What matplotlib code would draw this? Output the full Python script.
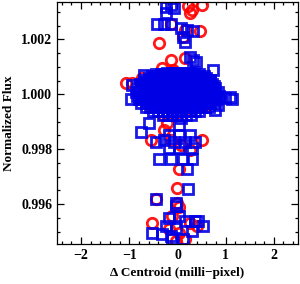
import numpy as np
import matplotlib
matplotlib.use('Agg')
import matplotlib.pyplot as plt
from matplotlib.ticker import MultipleLocator

plt.rcParams['font.family'] = ['Liberation Serif', 'DejaVu Serif']
plt.rcParams['font.weight'] = 'bold'
plt.rcParams['axes.unicode_minus'] = True

# flux offsets are stored in ppm relative to 1.0
# --- red circles (first data set) ---
red_x = [-0.3, 0.0, 0.25, -0.316, -0.1, -1.074, -0.947, -0.737, -0.5, -0.1, 0.3, 0.6,
         -0.7, -0.3, 0.1, 0.5, 0.8, -0.6, -0.2, 0.2, 0.6, -0.3, 0.1,
         # upper outliers
         0.21, 0.505, 0.253, 0.295, 0.463, -0.379, -0.126, 0.147, -0.126, 0.147, 0.105,
         # lower outliers
         -0.547, -0.21, 0.505, -0.126, 0.084, 0.253, -0.274, 0.042, 0.0, -0.442, 0.0, 0.042,
         -0.526, -0.105, -0.168, 0.042, 0.147, -0.021, 0.4, 0.253]
red_ppm = [700, 700, 700, 951, 880, 402, 402, 585, 400, 400, 400, 400,
           0, 0, 0, 0, 0, -400, -400, -400, -400, -750, -750,
           3217, 3254, 2961, 3071, 2303, 1865, 1243, 1316, 2559, 2340, 2084,
           -1682, -1060, -1682, -1682, -1865, -2047, -1316, -2705, -3400, -3802, -3948, -4095,
           -4680, -4424, -4899, -5045, -5265, -5338, -4789, -4680]

# --- blue squares (second data set) ---
blue_core_x = [
    -0.22, -0.12, -0.02, 0.08, 0.18, 0.27,
    -0.52, -0.41, -0.33, -0.22, -0.13, -0.04, 0.06, 0.15, 0.24, 0.35, 0.44, 0.55,
    -0.66, -0.57, -0.46, -0.37, -0.27, -0.18, -0.08, 0.01, 0.11, 0.2, 0.31, 0.4, 0.5, 0.61, 0.68,
    -0.78, -0.69, -0.6, -0.5, -0.41, -0.31, -0.22, -0.12, -0.03, 0.07, 0.16, 0.26, 0.35, 0.45, 0.54, 0.64, 0.72,
    -0.84, -0.74, -0.65, -0.55, -0.46, -0.36, -0.27, -0.17, -0.08, 0.02, 0.11, 0.21, 0.3, 0.4, 0.49, 0.59, 0.68, 0.78,
    -0.86, -0.77, -0.67, -0.58, -0.48, -0.39, -0.29, -0.2, -0.1, -0.01, 0.09, 0.18, 0.28, 0.37, 0.47, 0.56, 0.66, 0.75, 0.84,
    -0.84, -0.74, -0.65, -0.55, -0.46, -0.36, -0.27, -0.17, -0.08, 0.02, 0.11, 0.21, 0.3, 0.4, 0.49, 0.59, 0.68, 0.78, 0.87,
    -0.8, -0.71, -0.61, -0.52, -0.42, -0.33, -0.23, -0.14, -0.04, 0.05, 0.15, 0.24, 0.34, 0.43, 0.53, 0.62, 0.72, 0.8,
    -0.75, -0.65, -0.56, -0.46, -0.37, -0.27, -0.18, -0.08, 0.01, 0.11, 0.2, 0.3, 0.39, 0.49, 0.58, 0.68, 0.76,
    -0.66, -0.57, -0.47, -0.38, -0.28, -0.19, -0.09, 0.0, 0.1, 0.19, 0.29, 0.38, 0.48, 0.57, 0.65,
    -0.5, -0.4, -0.31, -0.21, -0.12, -0.02, 0.07, 0.17, 0.26, 0.36, 0.45,
    -0.3, -0.2, -0.11, -0.01, 0.08, 0.18, 0.28]
blue_core_ppm = (
    [790] * 6 + [650] * 12 + [510] * 15 + [370] * 17 + [230] * 18 + [90] * 19 +
    [-50] * 19 + [-190] * 18 + [-330] * 17 + [-470] * 15 + [-610] * 11 + [-740] * 7)

# denser inner core, staggered between the rows above
blue_inner_x = [
    -0.45, -0.35, -0.25, -0.15, -0.05, 0.05, 0.15, 0.25, 0.35, 0.45,
    -0.6, -0.5, -0.4, -0.3, -0.2, -0.1, 0.0, 0.1, 0.2, 0.3, 0.4, 0.5, 0.6,
    -0.7, -0.6, -0.5, -0.4, -0.3, -0.2, -0.1, 0.0, 0.1, 0.2, 0.3, 0.4, 0.5, 0.6, 0.68,
    -0.75, -0.65, -0.55, -0.45, -0.35, -0.25, -0.15, -0.05, 0.05, 0.15, 0.25, 0.35, 0.45, 0.55, 0.65, 0.75,
    -0.75, -0.65, -0.55, -0.45, -0.35, -0.25, -0.15, -0.05, 0.05, 0.15, 0.25, 0.35, 0.45, 0.55, 0.65, 0.75,
    -0.72, -0.62, -0.52, -0.42, -0.32, -0.22, -0.12, -0.02, 0.08, 0.18, 0.28, 0.38, 0.48, 0.58, 0.68, 0.78,
    -0.7, -0.6, -0.5, -0.4, -0.3, -0.2, -0.1, 0.0, 0.1, 0.2, 0.3, 0.4, 0.5, 0.6, 0.7,
    -0.6, -0.5, -0.4, -0.3, -0.2, -0.1, 0.0, 0.1, 0.2, 0.3, 0.4, 0.5, 0.6,
    -0.4, -0.3, -0.2, -0.1, 0.0, 0.1, 0.2, 0.3, 0.4]
blue_inner_ppm = (
    [720] * 10 + [580] * 13 + [440] * 15 + [300] * 16 + [160] * 16 + [20] * 16 +
    [-120] * 15 + [-260] * 13 + [-400] * 9)

blue_out_x = [-0.947, -0.968, 0.737, 0.99, 1.137, 0.779, 0.84, -0.695, 1.095,
              # upper outliers
              -0.23, -0.126, -0.063, -0.23, -0.42, -0.27, -0.126, 0.084, 0.19, 0.316, 0.105, 0.147,
              0.316, 0.253, 0.38,
              # lower outliers
              -0.589, -0.758, -0.442, 0.042, 0.084,
              -0.168, 0.042, 0.253, -0.063, 0.147, 0.358, -0.168, 0.042, 0.295, -0.274,
              -0.379, -0.126, 0.105, 0.295, 0.19, 0.21, -0.442, -0.021, -0.021, -0.526,
              -0.168, 0.147, 0.358, 0.526, -0.232, -0.021, 0.295, -0.316, -0.126, 0.105, -0.105, 0.421, 0.042]
blue_out_ppm = [329, -183, 877, -146, -183, -585, -402, 695, -110,
                3181, 3254, 3144, 2961, 2559, 2559, 2559, 2413, 2340, 2303, 2084, 1901,
                1243, 1353, 1170,
                -1060, -1389, -1755, -1133, -877,
                -1499, -1499, -1499, -1755, -1755, -1755, -1974, -1974, -1974, -1682,
                -2340, -2340, -2340, -2340, -2705, -3437, -3802, -3948, -4058, -5045,
                -4497, -4607, -4607, -4789, -4789, -4862, -4972, -5082, -5155, -5265, -5265, -4607, -4424]

red_flux = 1.0 + np.array(red_ppm) * 1e-6
blue_x = blue_core_x + blue_inner_x + blue_out_x
blue_flux = 1.0 + np.array(blue_core_ppm + blue_inner_ppm + blue_out_ppm) * 1e-6

fig = plt.figure(figsize=(3.0, 2.84), dpi=100)
ax = fig.add_axes([0.19, 0.141, 0.803, 0.852])

ax.plot(red_x, red_flux, 'o', mfc='none', mec='#ff0000', ms=7.5, mew=2.0, alpha=0.9)
ax.plot(blue_x, blue_flux, 's', mfc='none', mec='#0000e6', ms=7.3, mew=2.0, alpha=0.9)

ax.set_xlim(-2.5, 2.5)
ax.set_ylim(0.99455, 1.00336)
ax.xaxis.set_major_locator(MultipleLocator(1))
ax.xaxis.set_minor_locator(MultipleLocator(0.2))
ax.yaxis.set_major_locator(MultipleLocator(0.002))
ax.yaxis.set_minor_locator(MultipleLocator(0.0005))
ax.yaxis.set_major_formatter(plt.FormatStrFormatter('%.3f'))
ax.tick_params(which='both', direction='in', top=True, right=True, labelsize=10, width=0.9)
ax.tick_params(which='major', length=5)
ax.tick_params(which='minor', length=2.5)
for s in ax.spines.values():
    s.set_linewidth(0.9)

ax.set_xlabel('Δ Centroid (milli−pixel)', fontsize=9.5, fontweight='bold', labelpad=4)
ax.set_ylabel('Normalized Flux', fontsize=9.5, fontweight='bold', labelpad=4)

plt.savefig('out.png', dpi=100)
plt.close('all')
